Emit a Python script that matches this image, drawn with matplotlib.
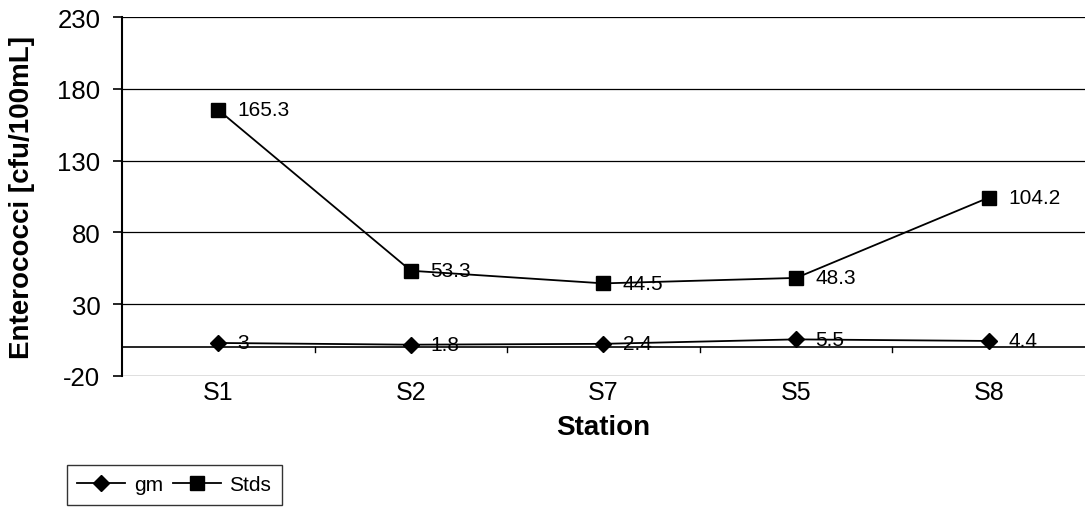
import matplotlib.pyplot as plt
import numpy as np

plt.rcParams['font.family'] = ['Liberation Sans', 'DejaVu Sans']

stations = ["S1", "S2", "S7", "S5", "S8"]
gm = [3, 1.8, 2.4, 5.5, 4.4]
stds = [165.3, 53.3, 44.5, 48.3, 104.2]
yticks = [-20, 30, 80, 130, 180, 230]

fig = plt.figure(figsize=(10.91, 5.10), dpi=100)
ax = fig.add_axes([0.1118, 0.2608, 0.8827, 0.7039])

x = np.arange(len(stations))
ax.plot(x, gm, color='black', lw=1.3, marker='D', ms=8, label='gm')
ax.plot(x, stds, color='black', lw=1.3, marker='s', ms=9.5, label='Stds')

for xi, v in zip(x, gm):
    ax.annotate(f"{v:g}", (xi, v), xytext=(14, 0), textcoords='offset points',
                va='center', ha='left', fontsize=15)
for xi, v in zip(x, stds):
    ax.annotate(f"{v:g}", (xi, v), xytext=(14, 0), textcoords='offset points',
                va='center', ha='left', fontsize=15)

ax.set_xlim(-0.5, len(stations) - 0.5)
ax.set_ylim(-20, 230)
ax.set_yticks(yticks)
ax.set_yticklabels([str(t) for t in yticks], fontsize=18.5)
ax.set_xticks(x)
ax.set_xticklabels(stations, fontsize=18)
ax.tick_params(axis='x', length=0, pad=3)
ax.tick_params(axis='y', length=6.5, width=1.2, direction='out', pad=9)

ax.grid(axis='y', color='black', lw=0.9)
ax.set_axisbelow(True)
for s in ['top', 'right', 'bottom']:
    ax.spines[s].set_visible(False)
ax.spines['left'].set_linewidth(1.5)

# zero line acts as category axis, with ticks between categories
ax.axhline(0, color='black', lw=1.2)
for b in np.arange(0.5, len(stations) - 1, 1.0):
    ax.plot([b, b], [0, -3], color='black', lw=1.0)

ax.set_xlabel("Station", fontsize=20, fontweight='bold')
ax.xaxis.set_label_coords(0.5, -0.105)
ax.set_ylabel("Enterococci [cfu/100mL]", fontsize=20, fontweight='bold')
ax.yaxis.set_label_coords(-0.0905, 0.5)

leg = fig.legend(loc='upper left', bbox_to_anchor=(67 / 1091, 1 - 466 / 510),
                 ncol=2, fontsize=15, frameon=True, fancybox=False,
                 edgecolor='black', handlelength=2.3, columnspacing=0.5,
                 handletextpad=0.4, borderpad=0.5, borderaxespad=0)
leg.get_frame().set_linewidth(1.0)

fig.savefig("out.png", dpi=100)
